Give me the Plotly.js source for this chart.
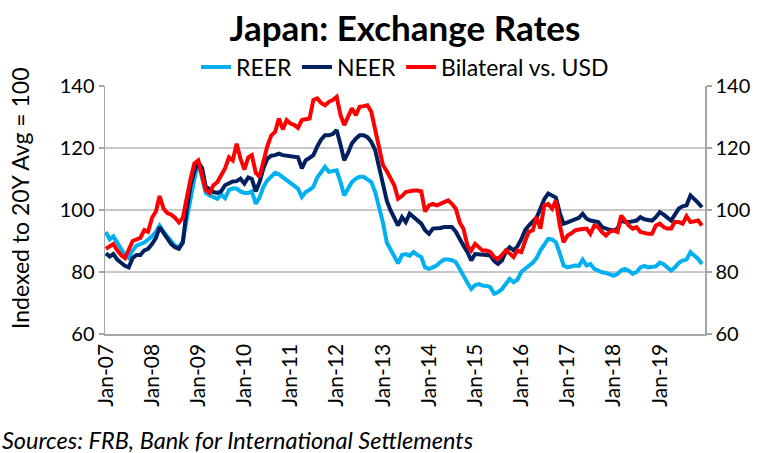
<!DOCTYPE html>
<html>
<head>
<meta charset="utf-8">
<script src="https://cdn.plot.ly/plotly-3.0.1.min.js"></script>
<style>
html,body{margin:0;padding:0;background:#fff;}
#chart{width:766px;height:453px;}
</style>
</head>
<body>
<div id="chart"></div>
<script>
// Monthly observations, Jan-2007 .. Dec-2019
const startYear = 2007;
const nMonths = 156;

const reer = [
  92.9, 90.5, 91.5, 89.5, 88, 85.5, 84.5, 87, 88.5, 89, 89.5, 90.5,
  91.5, 93, 95, 93, 91.5, 90, 88.5, 88, 90, 97, 104, 110,
  115.5, 110, 105.5, 104.7, 104, 103.6, 105, 103.8, 106.5, 106.9, 106.9, 106,
  105.5, 105.5, 106, 102, 104, 107.5, 109.5, 111, 112, 111.5, 110.5, 109.5,
  108.5, 107.5, 106.9, 104.2, 105.8, 106.5, 107.5, 110.5, 112.5, 113.9, 112.3, 112.5,
  112.8, 109, 104.7, 106.9, 109, 110.1, 110.7, 110.7, 110, 109, 105.8, 101.5,
  96, 89.5, 87.5, 85.5, 82.8, 85.5, 85.8, 85.3, 86.4, 85.5, 84.8, 81.5,
  81, 81.5, 82.1, 83.2, 84, 84, 83.8, 83.2, 80.8, 79, 76.5, 74.5,
  75.8, 76.1, 75.6, 75.5, 75.1, 73, 73.5, 74.5, 76, 77.8, 76.7, 77.5,
  80, 81.2, 82, 83, 84.5, 87, 89, 90.7, 90.5, 89.6, 86, 82.1,
  81.5, 81.8, 82.1, 82, 84, 82.1, 82.6, 81, 80.4, 79.9, 79.7, 79.2,
  78.8, 79.4, 80.5, 81, 80.4, 79.4, 80, 81.5, 82, 81.5, 81.5, 81.8,
  83, 82.5, 81.5, 80.5, 81.5, 83, 83.7, 84, 86.4, 85.3, 84.2, 82.6
];

const neer = [
  86, 85, 85.8, 84, 83, 82, 81.5, 84.5, 85.5, 85.5, 87, 87.5,
  89, 91, 94.5, 92.5, 90.5, 89, 88, 87.5, 89.5, 100, 108, 112.5,
  115.5, 113.5, 107.5, 106.5, 105.8, 105.5, 106, 108, 108.8, 109.2, 109.3, 110.1,
  108.5, 110.5, 110, 106, 109, 113.5, 116.5, 117.5, 117.7, 118.2, 117.7, 117.5,
  117.1, 117.1, 117, 113.4, 116, 116.8, 117.7, 120.5, 122.8, 124.1, 124.1, 124.5,
  125.8, 121, 116, 118.5, 121.5, 123, 124.1, 124.1, 123.5, 122, 119.3, 114,
  108, 103, 100, 97.5, 95, 97.7, 96.1, 98.8, 97.8, 97, 95.6, 93.5,
  92.3, 94, 94, 94.2, 94.5, 94.5, 94.5, 93, 91, 88.5, 86.4, 83.7,
  85.8, 85.8, 85.8, 85.5, 85.3, 83.5, 82.6, 83.7, 86.5, 88, 87, 88.2,
  90.5, 93.5, 95, 96.1, 97.5, 100.5, 103.5, 105.3, 104.7, 104, 99, 95.6,
  96, 96.6, 97.2, 97.5, 98.8, 97.2, 96.6, 96.3, 96.1, 94.5, 94, 93.6,
  93.4, 94, 96.6, 96.1, 96.1, 96.3, 96.6, 97.7, 97, 96.8, 96.6, 97.7,
  99.3, 98.5, 97.7, 96.6, 98.5, 100.5, 101.2, 101.5, 104.7, 103.6, 102.3, 100.9
];

const bilateral = [
  87.5, 88.5, 89, 87, 85.5, 84.5, 87.5, 90, 90.5, 91, 93.5, 93,
  97.5, 99.5, 104.5, 100.5, 99, 98.5, 97.5, 96, 97.5, 104, 110, 115,
  116, 111, 106.5, 105.5, 108, 109, 111, 113.4, 117, 116, 121.4, 116.6,
  113, 117, 117.7, 112, 110.7, 115.5, 120.5, 124, 125.2, 129.5, 126, 129,
  127.9, 127.4, 126.5, 129, 129.3, 129.5, 135.5, 136, 134.5, 133.8, 134.9, 135.5,
  136.5, 130.6, 127.4, 130.1, 132.8, 130.6, 133.3, 133.5, 133.8, 131.7, 126.3, 121,
  114.5, 112.5, 110, 108, 103.6, 104.5, 105.8, 106.2, 106.3, 106.3, 106, 99.5,
  101.5, 102, 101.5, 102, 102.5, 103.1, 102, 100.4, 96, 93.9, 88.5, 86.9,
  89.1, 88, 86.9, 86.9, 86.5, 84.8, 84.2, 85.5, 87, 86, 84.8, 86.9,
  86.4, 90, 93, 93.4, 97.7, 94, 101.5, 102, 100.4, 103.1, 95, 89.6,
  91.8, 92.5, 93.4, 93.7, 94, 94, 92.3, 95, 94.5, 92.9, 91.8, 93,
  93.4, 92.9, 98.2, 96.5, 95, 94, 94.5, 92.9, 92.5, 92.3, 92.3, 95,
  95.6, 94.5, 94, 94, 96.1, 96.1, 95.6, 98, 96.1, 96.3, 96.6, 95
];

const tickVals = ['2007-01-01','2008-01-01','2009-01-01','2010-01-01','2011-01-01','2012-01-01','2013-01-01',
                  '2014-01-01','2015-01-01','2016-01-01','2017-01-01','2018-01-01','2019-01-01'];
const tickText = ['Jan-07','Jan-08','Jan-09','Jan-10','Jan-11','Jan-12','Jan-13',
                  'Jan-14','Jan-15','Jan-16','Jan-17','Jan-18','Jan-19'];
const yTicks = [60, 80, 100, 120, 140];

const seriesNames = ['REER', 'NEER', 'Bilateral vs. USD'];

// month categories
const months = [];
for (let i = 0; i < nMonths; i++) {
  const y = startYear + Math.floor(i / 12);
  const m = (i % 12) + 1;
  months.push(y + '-' + (m < 10 ? '0' + m : m) + '-01');
}

const FONT = 'Lato, "Open Sans", sans-serif';

const traces = [
  {x: months, y: reer, name: seriesNames[0], type: 'scatter', mode: 'lines',
   line: {color: '#00B0F0', width: 4}},
  {x: months, y: neer, name: seriesNames[1], type: 'scatter', mode: 'lines',
   line: {color: '#002060', width: 4}},
  {x: months, y: bilateral, name: seriesNames[2], type: 'scatter', mode: 'lines',
   line: {color: '#FF0000', width: 4}},
  // carries the right-hand mirror axis
  {x: months, y: reer, yaxis: 'y2', type: 'scatter', mode: 'lines', showlegend: false,
   hoverinfo: 'skip', line: {color: 'rgba(0,0,0,0)', width: 0}}
];

const layout = {
  width: 766, height: 453,
  margin: {l: 105, r: 61, t: 86, b: 119},
  paper_bgcolor: '#fff', plot_bgcolor: '#fff',
  font: {family: FONT, color: '#000', size: 18},
  title: {
    text: '<b>Japan: Exchange Rates</b>',
    font: {family: FONT, size: 35, color: '#000'},
    x: 0.5, xref: 'paper', xanchor: 'center',
    y: 1 - 29 / 453, yref: 'container', yanchor: 'middle'
  },
  showlegend: true,
  legend: {
    orientation: 'h', x: 0.5, xanchor: 'center', y: 1 + 19 / 248, yanchor: 'middle',
    font: {family: FONT, size: 23, color: '#000'},
    itemwidth: 30, tracegroupgap: 0, bgcolor: 'rgba(0,0,0,0)'
  },
  xaxis: {
    type: 'date',
    range: ['2006-12-25', '2019-12-25'],
    tickvals: tickVals, ticktext: tickText,
    tickangle: -90,
    tickfont: {family: FONT, size: 21, color: '#000'},
    showgrid: false, zeroline: false,
    showline: true, linecolor: '#A6A6A6', linewidth: 1.5,
    ticks: '', automargin: false
  },
  yaxis: {
    range: [60, 140], tickvals: yTicks,
    tickfont: {family: FONT, size: 20, color: '#000'},
    showgrid: true, gridcolor: '#C8C8C8', gridwidth: 1.5,
    zeroline: false, showline: true, linecolor: '#A6A6A6', linewidth: 1.5,
    ticks: 'outside', ticklen: 5, tickcolor: '#A6A6A6', tickwidth: 1.5,
    automargin: false
  },
  yaxis2: {
    overlaying: 'y', side: 'right',
    range: [60, 140], tickvals: yTicks,
    tickfont: {family: FONT, size: 20, color: '#000'},
    showgrid: false, zeroline: false,
    showline: true, linecolor: '#A6A6A6', linewidth: 1.5,
    ticks: 'outside', ticklen: 5, tickcolor: '#A6A6A6', tickwidth: 1.5,
    automargin: false
  },
  annotations: [{
    text: 'Indexed to 20Y Avg = 100',
    xref: 'paper', yref: 'paper',
    x: -85 / 600, xanchor: 'center',
    y: (334 - 198) / 248, yanchor: 'middle',
    textangle: -90, showarrow: false,
    font: {family: FONT, size: 23, color: '#000'}
  }, {
    text: '<i>Sources: FRB, Bank for International Settlements</i>',
    xref: 'paper', yref: 'paper',
    x: -105 / 600, xanchor: 'left',
    y: (334 - 440) / 248, yanchor: 'middle',
    showarrow: false,
    font: {family: FONT, size: 23.5, color: '#000'}
  }]
};

Plotly.newPlot('chart', traces, layout, {displayModeBar: false, staticPlot: true});
</script>
</body>
</html>
